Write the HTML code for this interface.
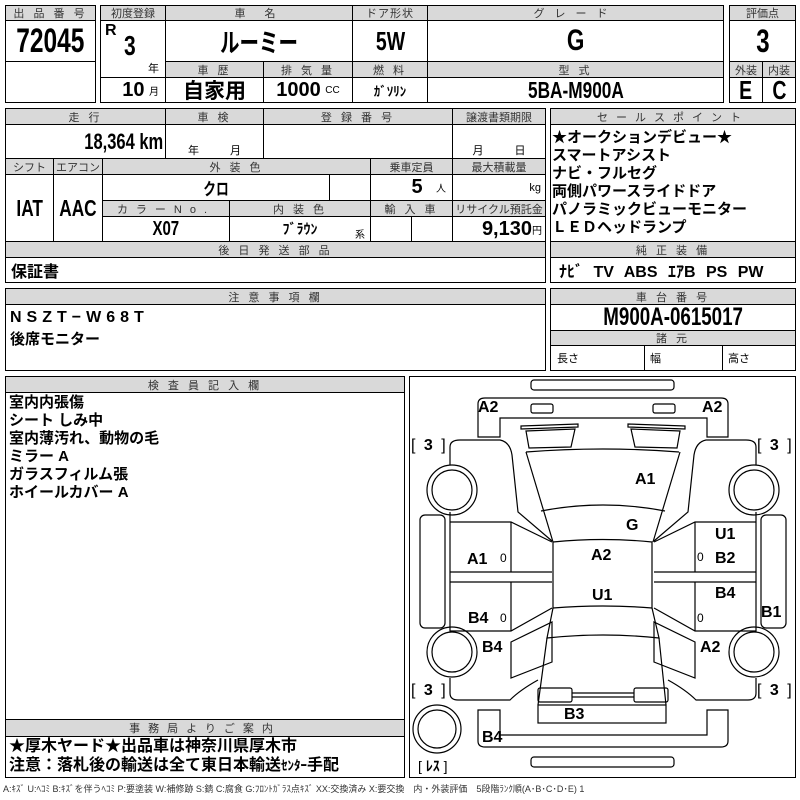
<!DOCTYPE html>
<html><head><meta charset="utf-8"><style>
body{margin:0;width:800px;height:800px;background:#fff;position:relative;overflow:hidden;font-family:"Liberation Sans","Noto Sans CJK JP",sans-serif;color:#000}
.c{position:absolute;box-sizing:border-box;border:1px solid #000;display:flex;align-items:center;justify-content:center;background:#fff;white-space:nowrap;overflow:hidden}
.h{background:#d9d9d9;font-size:11px;letter-spacing:3px;color:#333}
.v{font-weight:bold;font-size:20px;font-family:"Liberation Sans","Noto Sans CJK JP",sans-serif}
.n{display:inline-block;transform:scaleX(.75)}
.j{font-weight:bold;font-family:"Liberation Sans","Noto Sans CJK JP",sans-serif}
.t{position:absolute;white-space:nowrap}
.s{font-size:10px;font-weight:normal}
.lab{font-weight:bold;font-size:16px;font-family:"Liberation Sans","Noto Sans CJK JP",sans-serif}
</style></head><body>
<div class="c h" style="left:5px;top:5px;width:91px;height:16px">出 品 番 号</div>
<div class="c v" style="left:5px;top:20px;width:91px;height:42px;font-size:34px"><span class="n" style="transform:scaleX(.72)">72045</span></div>
<div class="c" style="left:5px;top:61px;width:91px;height:42px"></div>
<div class="c h" style="left:100px;top:5px;width:66px;height:16px;letter-spacing:0">初度登録</div>
<div class="c h" style="left:165px;top:5px;width:188px;height:16px;letter-spacing:8px">車 名</div>
<div class="c h" style="left:352px;top:5px;width:76px;height:16px;letter-spacing:1px">ドア形状</div>
<div class="c h" style="left:427px;top:5px;width:297px;height:16px;letter-spacing:10px">グレード</div>
<div class="c" style="left:100px;top:20px;width:66px;height:58px"></div>
<div class="t v" style="left:105px;top:22px;font-size:16px">R</div>
<div class="t v" style="left:122px;top:30px;font-size:28px"><span class="n">3</span></div>
<div class="t" style="left:148px;top:60px;font-size:11px">年</div>
<div class="c j" style="left:100px;top:77px;width:66px;height:26px;justify-content:flex-end;padding-right:6px"><span class="v">10</span>&nbsp;<span class="s">月</span></div>
<div class="c v" style="left:165px;top:20px;width:188px;height:42px;font-size:26px"><span class="n">ルーミー</span></div>
<div class="c v" style="left:352px;top:20px;width:76px;height:42px;font-size:26px"><span class="n">5W</span></div>
<div class="c v" style="left:427px;top:20px;width:297px;height:42px;font-size:30px"><span class="n">G</span></div>
<div class="c h" style="left:165px;top:61px;width:99px;height:17px">車 歴</div>
<div class="c h" style="left:263px;top:61px;width:90px;height:17px">排 気 量</div>
<div class="c h" style="left:352px;top:61px;width:76px;height:17px">燃 料</div>
<div class="c h" style="left:427px;top:61px;width:297px;height:17px">型 式</div>
<div class="c j" style="left:165px;top:77px;width:99px;height:26px;font-size:21px">自家用</div>
<div class="c" style="left:263px;top:77px;width:90px;height:26px"><span class="v">1000</span>&nbsp;<span class="s">CC</span></div>
<div class="c j" style="left:352px;top:77px;width:76px;height:26px;font-size:13px">ｶﾞｿﾘﾝ</div>
<div class="c v" style="left:427px;top:77px;width:297px;height:26px;font-size:23px"><span class="n">5BA-M900A</span></div>
<div class="c h" style="left:729px;top:5px;width:67px;height:16px;letter-spacing:0">評価点</div>
<div class="c v" style="left:729px;top:20px;width:67px;height:42px;font-size:32px"><span class="n">3</span></div>
<div class="c h" style="left:729px;top:61px;width:34px;height:17px;letter-spacing:0">外装</div>
<div class="c h" style="left:762px;top:61px;width:34px;height:17px;letter-spacing:0">内装</div>
<div class="c v" style="left:729px;top:77px;width:34px;height:26px;font-size:26px"><span class="n">E</span></div>
<div class="c v" style="left:762px;top:77px;width:34px;height:26px;font-size:26px"><span class="n">C</span></div>
<div class="c h" style="left:5px;top:108px;width:161px;height:17px">走 行</div>
<div class="c h" style="left:165px;top:108px;width:99px;height:17px">車 検</div>
<div class="c h" style="left:263px;top:108px;width:190px;height:17px">登 録 番 号</div>
<div class="c h" style="left:452px;top:108px;width:94px;height:17px;letter-spacing:0">譲渡書類期限</div>
<div class="c" style="left:5px;top:124px;width:161px;height:35px;justify-content:flex-end;padding-right:2px"><span class="v n" style="font-size:22px;transform-origin:right">18,364 km</span></div>
<div class="c" style="left:165px;top:124px;width:99px;height:35px;align-items:flex-end;font-size:11px;word-spacing:28px">年 月</div>
<div class="c" style="left:263px;top:124px;width:190px;height:35px"></div>
<div class="c" style="left:452px;top:124px;width:94px;height:35px;align-items:flex-end;font-size:11px;word-spacing:28px">月 日</div>
<div class="c h" style="left:5px;top:158px;width:49px;height:17px;letter-spacing:0">シフト</div>
<div class="c h" style="left:53px;top:158px;width:50px;height:17px;letter-spacing:0">エアコン</div>
<div class="c h" style="left:102px;top:158px;width:269px;height:17px">外 装 色</div>
<div class="c h" style="left:370px;top:158px;width:83px;height:17px;letter-spacing:0">乗車定員</div>
<div class="c h" style="left:452px;top:158px;width:94px;height:17px;letter-spacing:0">最大積載量</div>
<div class="c v" style="left:5px;top:174px;width:49px;height:68px;font-size:23px"><span class="n">IAT</span></div>
<div class="c v" style="left:53px;top:174px;width:50px;height:68px;font-size:23px"><span class="n">AAC</span></div>
<div class="c v" style="left:102px;top:174px;width:228px;height:27px;font-size:17px"><span class="n">クロ</span></div>
<div class="c" style="left:329px;top:174px;width:42px;height:27px"></div>
<div class="c" style="left:370px;top:174px;width:83px;height:27px;justify-content:flex-end;padding-right:6px"><span class="v">5</span>&nbsp;&nbsp;&nbsp;<span class="s">人</span></div>
<div class="c" style="left:452px;top:174px;width:94px;height:27px;justify-content:flex-end;padding-right:4px;font-size:11px">kg</div>
<div class="c h" style="left:102px;top:200px;width:128px;height:17px;letter-spacing:8px">カラーNo.</div>
<div class="c h" style="left:229px;top:200px;width:142px;height:17px">内 装 色</div>
<div class="c h" style="left:370px;top:200px;width:83px;height:17px">輸 入 車</div>
<div class="c h" style="left:452px;top:200px;width:94px;height:17px;letter-spacing:0">リサイクル預託金</div>
<div class="c v" style="left:102px;top:216px;width:128px;height:26px;font-size:20px"><span class="n">X07</span></div>
<div class="c" style="left:229px;top:216px;width:142px;height:26px"><span class="j" style="font-size:14px">ﾌﾞﾗｳﾝ</span></div>
<div class="t" style="left:355px;top:226px;font-size:10px">系</div>
<div class="c" style="left:370px;top:216px;width:42px;height:26px"></div>
<div class="c" style="left:411px;top:216px;width:42px;height:26px"></div>
<div class="c" style="left:452px;top:216px;width:94px;height:26px;justify-content:flex-end;padding-right:3px"><span class="v">9,130</span><span class="s">円</span></div>
<div class="c h" style="left:5px;top:241px;width:541px;height:17px">後 日 発 送 部 品</div>
<div class="c j" style="left:5px;top:257px;width:541px;height:26px;justify-content:flex-start;padding-left:5px;font-size:16px">保証書</div>
<div class="c h" style="left:550px;top:108px;width:246px;height:17px;letter-spacing:8px">セールスポイント</div>
<div class="c" style="left:550px;top:124px;width:246px;height:118px"></div>
<div class="t j" style="left:552px;top:129px;font-size:15px;line-height:18px">★オークションデビュー★<br>スマートアシスト<br>ナビ・フルセグ<br>両側パワースライドドア<br>パノラミックビューモニター<br>ＬＥＤヘッドランプ</div>
<div class="c h" style="left:550px;top:241px;width:246px;height:17px">純 正 装 備</div>
<div class="c" style="left:550px;top:257px;width:246px;height:26px;justify-content:flex-start;padding-left:8px"><span class="v" style="font-size:16px;word-spacing:6px">ﾅﾋﾞ TV ABS ｴｱB PS PW</span></div>
<div class="c h" style="left:5px;top:288px;width:541px;height:17px">注 意 事 項 欄</div>
<div class="c" style="left:5px;top:304px;width:541px;height:67px"></div>
<div class="t j" style="left:10px;top:309px;font-size:16px;letter-spacing:5px">NSZT−W68T</div>
<div class="t j" style="left:10px;top:328px;font-size:15px">後席モニター</div>
<div class="c h" style="left:550px;top:288px;width:246px;height:17px">車 台 番 号</div>
<div class="c v" style="left:550px;top:304px;width:246px;height:27px;font-size:25px"><span class="n">M900A-0615017</span></div>
<div class="c h" style="left:550px;top:330px;width:246px;height:16px">諸 元</div>
<div class="c" style="left:550px;top:345px;width:95px;height:26px;justify-content:flex-start;padding-left:6px;font-size:11px">長さ</div>
<div class="c" style="left:644px;top:345px;width:79px;height:26px;justify-content:flex-start;padding-left:5px;font-size:11px">幅</div>
<div class="c" style="left:722px;top:345px;width:74px;height:26px;justify-content:flex-start;padding-left:5px;font-size:11px">高さ</div>
<div class="c h" style="left:5px;top:376px;width:400px;height:17px">検 査 員 記 入 欄</div>
<div class="c" style="left:5px;top:392px;width:400px;height:328px"></div>
<div class="t j" style="left:9px;top:394px;font-size:15px;line-height:18px">室内内張傷<br>シート しみ中<br>室内薄汚れ、動物の毛<br>ミラー A<br>ガラスフィルム張<br>ホイールカバー A</div>
<div class="c h" style="left:5px;top:719px;width:400px;height:18px;letter-spacing:8px">事務局よりご案内</div>
<div class="c" style="left:5px;top:736px;width:400px;height:42px"></div>
<div class="t j" style="left:9px;top:737px;font-size:16px;line-height:19px">★厚木ヤード★出品車は神奈川県厚木市<br>注意：落札後の輸送は全て東日本輸送<span style="font-size:13px">ｾﾝﾀｰ</span>手配</div>
<div class="c" style="left:409px;top:376px;width:387px;height:402px"></div>
<svg style="position:absolute;left:0;top:0" width="800" height="800" viewBox="0 0 800 800" fill="none" stroke="#000" stroke-width="1.2">
<defs><g id="L">
<rect x="531" y="404" width="22" height="9" rx="2"/>
<polygon points="521,426 578,424 578,427 521,429"/>
<polygon points="526,431 575,429 571,447 529,448"/>
<path d="M450,465 L450,447 Q450,440 460,440 L500,440 Q510,442 512,455 L518,512 L552,541"/>
<circle cx="452" cy="490" r="25"/><circle cx="452" cy="490" r="20"/>
<circle cx="452" cy="652" r="25"/><circle cx="452" cy="652" r="20"/>
<rect x="420" y="515" width="25" height="113" rx="5"/>
<path d="M450,512 L450,631 L511,631 L552,608"/>
<path d="M450,522 L511,522 L552,542"/>
<path d="M450,572 L552,572 M450,582 L552,582 M511,522 L511,572 M511,582 L511,631"/>
<polygon points="511,642 552,622 552,662 511,678"/>
<path d="M450,678 L450,693 Q450,700 458,700 L510,700 Q520,690 538,680"/>
<rect x="538" y="688" width="34" height="14" rx="2"/>
<path d="M526,452 L553,542 M541,511 Q572,505 603,505"/>
</g></defs>
<use href="#L"/>
<use href="#L" transform="translate(1206,0) scale(-1,1)"/>
<rect x="531" y="380" width="143" height="10" rx="3"/>
<rect x="531" y="757" width="143" height="10" rx="3"/>
<path d="M478,437 L478,404 Q478,398 485,398 L721,398 Q728,398 728,404 L728,437 L707,437 L707,418 L500,418 L500,437 Z"/>
<path d="M526,452 Q603,446 679,452"/>
<path d="M553,542 Q603,537 652,542 L652,608 Q603,604 553,608 Z"/>
<path d="M553,608 L547,638 Q603,632 659,638 L652,608"/>
<path d="M547,638 L538,705 M659,638 L666,705"/>
<path d="M572,693 L634,693 M572,697 L634,697"/>
<rect x="538" y="705" width="128" height="18"/>
<path d="M478,710 L478,741 Q478,747 485,747 L721,747 Q728,747 728,741 L728,710 L707,710 L707,735 L500,735 L500,710 Z"/>
<circle cx="437" cy="729" r="24"/><circle cx="437" cy="729" r="19"/>
</svg>
<div class="t lab" style="left:478px;top:399px">A2</div>
<div class="t lab" style="left:702px;top:399px">A2</div>
<div class="t lab" style="left:411px;top:437px;font-weight:normal;word-spacing:4px">[ <b>3</b> ]</div>
<div class="t lab" style="left:757px;top:437px;font-weight:normal;word-spacing:4px">[ <b>3</b> ]</div>
<div class="t lab" style="left:411px;top:682px;font-weight:normal;word-spacing:4px">[ <b>3</b> ]</div>
<div class="t lab" style="left:757px;top:682px;font-weight:normal;word-spacing:4px">[ <b>3</b> ]</div>
<div class="t lab" style="left:635px;top:471px">A1</div>
<div class="t lab" style="left:626px;top:517px">G</div>
<div class="t lab" style="left:591px;top:547px">A2</div>
<div class="t lab" style="left:592px;top:587px">U1</div>
<div class="t lab" style="left:467px;top:551px">A1</div>
<div class="t" style="left:500px;top:551px;font-size:12px">0</div>
<div class="t lab" style="left:468px;top:610px">B4</div>
<div class="t" style="left:500px;top:611px;font-size:12px">0</div>
<div class="t lab" style="left:482px;top:639px">B4</div>
<div class="t lab" style="left:715px;top:526px">U1</div>
<div class="t lab" style="left:715px;top:550px">B2</div>
<div class="t" style="left:697px;top:550px;font-size:12px">0</div>
<div class="t lab" style="left:715px;top:585px">B4</div>
<div class="t" style="left:697px;top:611px;font-size:12px">0</div>
<div class="t lab" style="left:761px;top:604px">B1</div>
<div class="t lab" style="left:700px;top:639px">A2</div>
<div class="t lab" style="left:564px;top:706px">B3</div>
<div class="t lab" style="left:482px;top:729px">B4</div>
<div class="t" style="left:418px;top:756px;font-size:14px">[ <b>ﾚｽ</b> ]</div>
<div class="t" style="left:3px;top:782px;font-size:9px;color:#333">A:ｷｽﾞ U:ﾍｺﾐ B:ｷｽﾞを伴うﾍｺﾐ P:要塗装 W:補修跡 S:錆 C:腐食 G:ﾌﾛﾝﾄｶﾞﾗｽ点ｷｽﾞ XX:交換済み X:要交換　内・外装評価　5段階ﾗﾝｸ順(A･B･C･D･E) 1</div>
</body></html>
